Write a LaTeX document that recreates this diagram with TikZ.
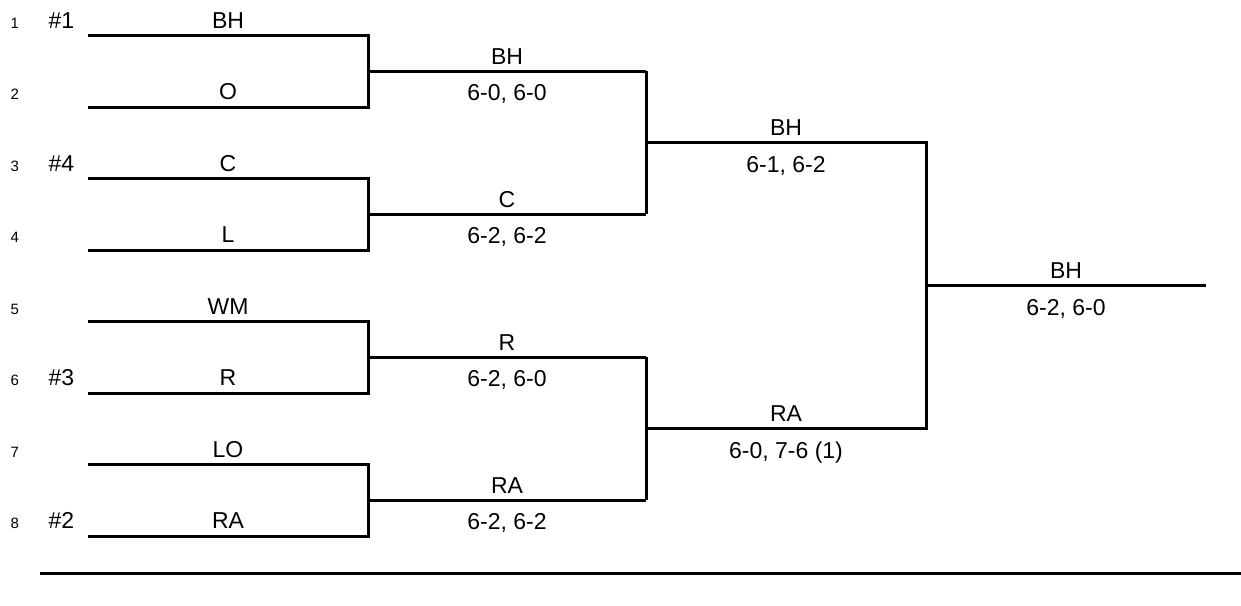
\documentclass[tikz,border=0pt]{standalone}
\usepackage{fontspec}
\setmainfont{Liberation Sans}
\usetikzlibrary{calc}
\begin{document}
\begin{tikzpicture}[x=1pt,y=-1pt,
  bl/.style={draw=black, line width=3pt, line join=miter},
  lbl/.style={anchor=base, inner sep=0pt, font=\fontsize{23}{27}\selectfont},
  rownum/.style={anchor=base west, inner sep=0pt, font=\fontsize{15}{18}\selectfont},
  seed/.style={anchor=base west, inner sep=0pt, font=\fontsize{23}{27}\selectfont}]
\useasboundingbox (0,0) rectangle (1241,605);
% first round rows
\foreach \i/\nm in {1/BH,2/O,3/C,4/L,5/WM,6/R,7/LO,8/RA}{
  \pgfmathsetmacro\yy{35.5+71.5*(\i-1)}
  \coordinate (L\i) at (88,\yy);
  \coordinate (R\i) at (368,\yy);
  \node[lbl] (n\i) at (228,\yy-7.2) {\nm};
  \node[rownum] (k\i) at (10.5,\yy-7.5) {\i};
}
% seeds
\node[seed] (s1) at (48.5,28.3) {\#1};
\node[seed] (s4) at (48.5,171.3) {\#4};
\node[seed] (s3) at (48.5,385.8) {\#3};
\node[seed] (s2) at (48.5,528.8) {\#2};
% first-round brackets
\foreach \a/\b in {1/2,3/4,5/6,7/8}{
  \draw[bl] (L\a) -- (R\a) -- (R\b) -- (L\b);
}
% second round
\foreach \j/\a/\b in {1/1/2,2/3/4,3/5/6,4/7/8}{
  \coordinate (P\j) at ($(R\a)!0.5!(R\b)$);
  \coordinate (Q\j) at ($(P\j)+(278,0)$);
}
\draw[bl] (P1) -- (Q1);
\draw[bl] (P2) -- (Q2);
\draw[bl] (P3) -- (Q3);
\draw[bl] (P4) -- (Q4);
\draw[bl] (Q1) -- (Q2);
\draw[bl] (Q3) -- (Q4);
\node[lbl] (w1) at ($(P1)!0.5!(Q1)+(0,-7.2)$) {BH};
\node[lbl] (c1) at ($(P1)!0.5!(Q1)+(0,29.5)$) {6-0, 6-0};
\node[lbl] (w2) at ($(P2)!0.5!(Q2)+(0,-7.2)$) {C};
\node[lbl] (c2) at ($(P2)!0.5!(Q2)+(0,29.5)$) {6-2, 6-2};
\node[lbl] (w3) at ($(P3)!0.5!(Q3)+(0,-7.2)$) {R};
\node[lbl] (c3) at ($(P3)!0.5!(Q3)+(0,29.5)$) {6-2, 6-0};
\node[lbl] (w4) at ($(P4)!0.5!(Q4)+(0,-7.2)$) {RA};
\node[lbl] (c4) at ($(P4)!0.5!(Q4)+(0,29.5)$) {6-2, 6-2};
% third round
\coordinate (S1) at ($(Q1)!0.5!(Q2)$);
\coordinate (T1) at ($(S1)+(280,0)$);
\coordinate (S2) at ($(Q3)!0.5!(Q4)$);
\coordinate (T2) at ($(S2)+(280,0)$);
\draw[bl] (S1) -- (T1) -- (T2) -- (S2);
\node[lbl] (x1) at ($(S1)!0.5!(T1)+(0,-7.2)$) {BH};
\node[lbl] (y1) at ($(S1)!0.5!(T1)+(0,29.5)$) {6-1, 6-2};
\node[lbl] (x2) at ($(S2)!0.5!(T2)+(0,-7.2)$) {RA};
\node[lbl] (y2) at ($(S2)!0.5!(T2)+(0,29.5)$) {6-0, 7-6 (1)};
% final
\coordinate (F0) at ($(T1)!0.5!(T2)$);
\coordinate (F1) at ($(F0)+(280,0)$);
\draw[bl] (F0) -- (F1);
\node[lbl] (fw) at ($(F0)!0.5!(F1)+(0,-7.2)$) {BH};
\node[lbl] (fs) at ($(F0)!0.5!(F1)+(0,29.5)$) {6-2, 6-0};
% bottom rule
\coordinate (B0) at (40,573.3);
\coordinate (B1) at (1241,573.3);
\draw[bl] (B0) -- (B1);
\end{tikzpicture}
\end{document}
